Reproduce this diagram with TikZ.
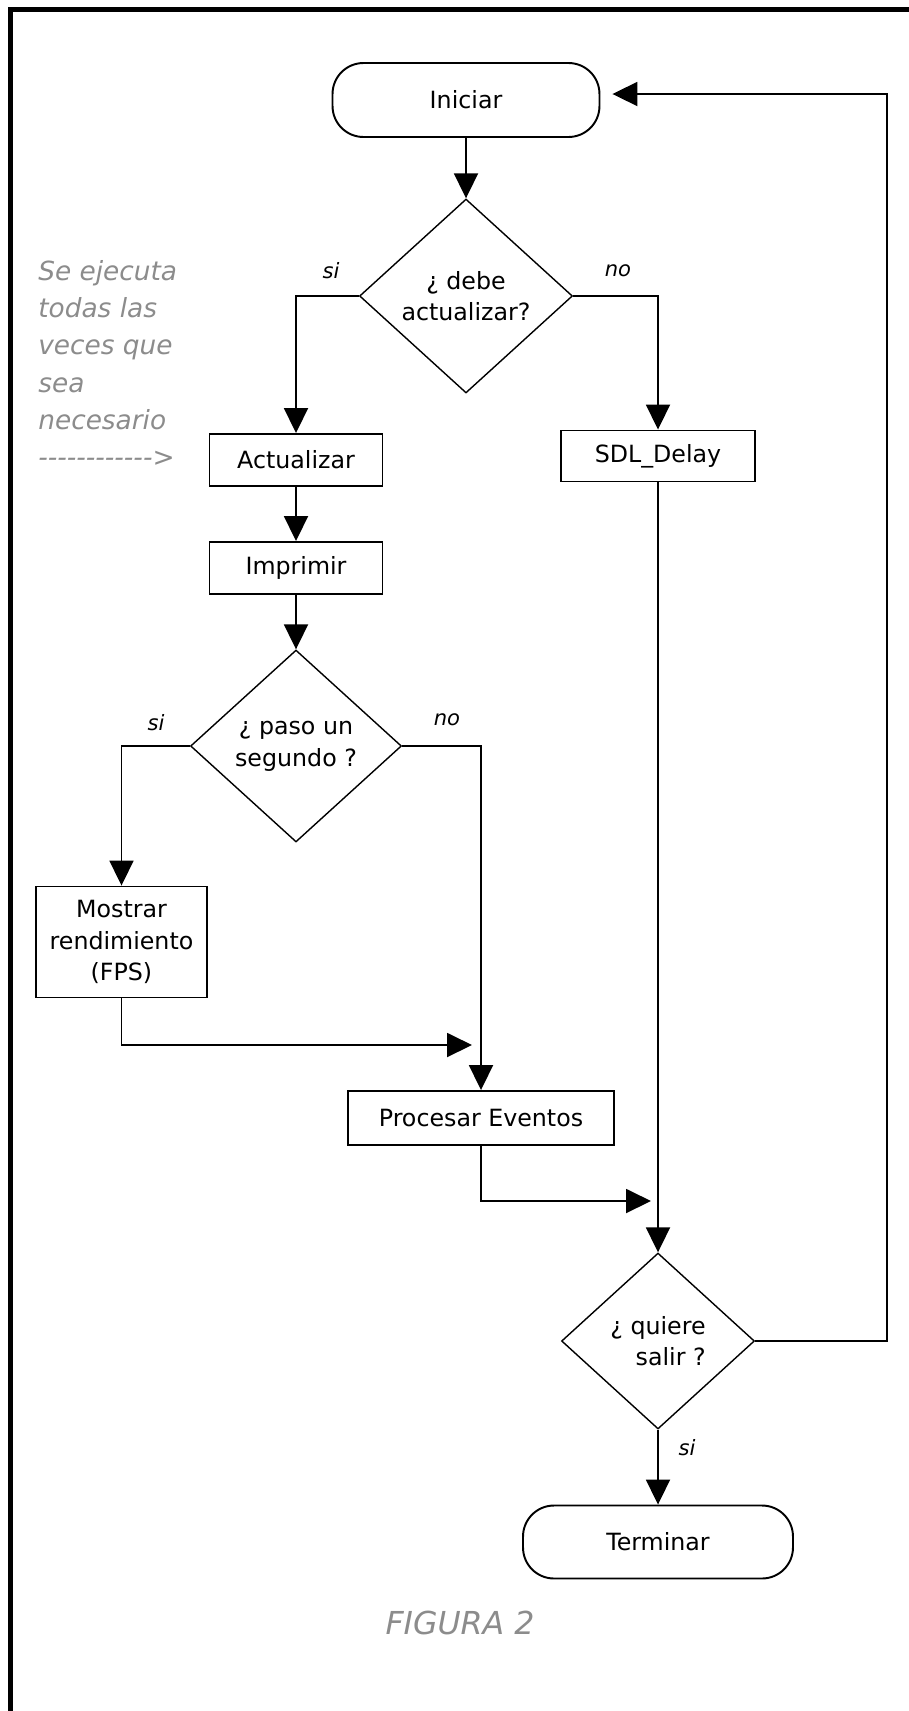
\documentclass[tikz,border=0pt]{standalone}
\usepackage{fontspec}
\setmainfont{DejaVu Sans}
\usetikzlibrary{arrows.meta,shapes.geometric}
\definecolor{notegray}{gray}{0.55}
\newcommand{\hy}{\mbox{-}}
\tikzset{
  term/.style={draw=black,line width=1.1pt,rounded corners=0.62cm,minimum width=5.34cm,minimum height=1.48cm}, % start / end
  proc/.style={draw=black,line width=1.1pt,minimum height=1.04cm,inner sep=2pt,align=center},
  decide/.style={diamond,draw=black,line width=0.8pt,inner sep=1pt,align=center},
  flow/.style={-{Triangle[length=5mm,width=4.8mm]},line width=1.1pt},
  lbl/.style={font=\fontsize{12}{14}\selectfont\itshape},
  note/.style={notegray,font=\fontsize{15}{21.2}\selectfont\itshape,align=left,inner sep=0pt},
}
\begin{document}
\begin{tikzpicture}[x=0.02cm,y=-0.02cm,font=\fontsize{13.5}{18}\selectfont]
  \useasboundingbox (0,0) rectangle (909,1711);
  \draw[line width=0.1cm] (10.5,1711) -- (10.5,9.5) -- (909,9.5);

  \node[term] (ini) at (466,100) {Iniciar};
  \node[decide,minimum width=4.26cm,minimum height=3.88cm] (dec1) at (466,296) {¿ debe\\actualizar?};
  \node[proc,minimum width=3.46cm] (act) at (296,460) {Actualizar};
  \node[proc,minimum width=3.88cm,minimum height=1.02cm] (sdl) at (658,456) {SDL\_Delay};
  \node[proc,minimum width=3.46cm] (imp) at (296,568) {Imprimir};
  \node[decide,minimum width=4.22cm,minimum height=3.84cm] (dec2) at (296,746) {¿ paso un\\segundo ?};
  \node[proc,minimum width=3.42cm,minimum height=2.22cm] (fps) at (121.5,942) {Mostrar\\rendimiento\\(FPS)};
  \node[proc,minimum width=5.32cm,minimum height=1.08cm] (proc) at (481,1118) {Procesar Eventos};
  \node[decide,minimum width=3.86cm,minimum height=3.52cm,align=right] (dec3) at (658,1341) {¿ quiere\\salir ?};
  \node[term,minimum width=5.4cm,minimum height=1.46cm] (fin) at (658,1542) {Terminar};

  \node[lbl] (si1) at (331,271) {si};
  \node[lbl] (no1) at (618,271) {no};
  \node[lbl] (si2) at (156,723) {si};
  \node[lbl] (no2) at (447,720) {no};
  \node[lbl] (si3) at (687,1448) {si};

  % side note
  \node[note,anchor=north west] (nota) at (38,260)
    {Se ejecuta\\todas las\\veces que\\sea\\necesario\\\hy\hy\hy\hy\hy\hy\hy\hy\hy\hy\hy\hy\mbox{>}};
  \node[notegray,font=\fontsize{18}{22}\selectfont\itshape] (fig) at (460,1623) {FIGURA 2};

  \coordinate (m1) at (472,1045);
  \coordinate (m2) at (651,1201);
  \coordinate (ret) at (887,94);

  \draw[flow] (ini) -- (dec1);
  \draw[flow] (dec1.west) -| (act);
  \draw[flow] (dec1.east) -| (sdl);
  \draw[flow] (act) -- (imp);
  \draw[flow] (imp) -- (dec2);
  \draw[flow] (dec2.west) -| (fps);
  \draw[flow] (dec2.east) -| (proc);
  \draw[flow] (fps.south) |- (m1);
  \draw[flow] (proc.south) |- (m2);
  \draw[flow] (sdl) -- (dec3);
  \draw[flow] (dec3) -- (fin);
  \draw[flow,shorten >=0.24cm] (dec3.east) -| (ret) -- (ini.east |- ret);
\end{tikzpicture}
\end{document}
